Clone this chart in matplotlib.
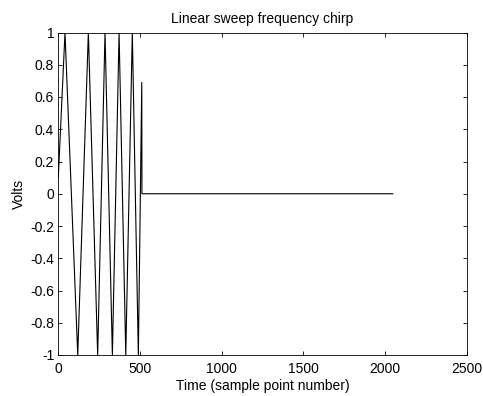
import matplotlib
matplotlib.use("Agg")
import matplotlib.pyplot as plt

# Chirp turning points (sample index, volts)
sample_idx = [0, 41, 119, 184, 241, 286, 331, 372, 413, 453, 490, 511, 512, 2047]
volts = [0.1, 1, -1, 1, -1, 1, -1, 1, -1, 1, -1, 0.69, 0, 0]

x_ticks = [0, 500, 1000, 1500, 2000, 2500]
x_tick_labels = ["0", "500", "1000", "1500", "2000", "2500"]
y_ticks = [-1, -0.8, -0.6, -0.4, -0.2, 0, 0.2, 0.4, 0.6, 0.8, 1]
y_tick_labels = ["-1", "-0.8", "-0.6", "-0.4", "-0.2", "0", "0.2", "0.4", "0.6", "0.8", "1"]

plt.rcParams['font.family'] = ['Liberation Sans', 'DejaVu Sans']
fs = 10

fig = plt.figure(figsize=(4.83, 3.96), dpi=100)
ax = fig.add_axes([58.3 / 483, 1 - 355 / 396, (466.7 - 58.3) / 483, (355 - 32.5) / 396])
ax.plot(sample_idx, volts, color='black', linewidth=0.8)
ax.set_xlim(0, 2500)
ax.set_ylim(-1, 1)
ax.set_xticks(x_ticks)
ax.set_xticklabels(x_tick_labels)
ax.set_yticks(y_ticks)
ax.set_yticklabels(y_tick_labels)
ax.tick_params(direction='in', top=True, right=True, length=3, width=0.6, labelsize=fs)
ax.tick_params(axis='x', pad=5)
ax.tick_params(axis='y', pad=3)
for s in ax.spines.values():
    s.set_linewidth(0.6)
ax.set_title("Linear sweep frequency chirp", fontsize=fs, pad=7)
ax.set_xlabel("Time (sample point number)", fontsize=fs, labelpad=2)
ax.set_ylabel("Volts", fontsize=fs, labelpad=3)
fig.savefig("out.png", dpi=100)
